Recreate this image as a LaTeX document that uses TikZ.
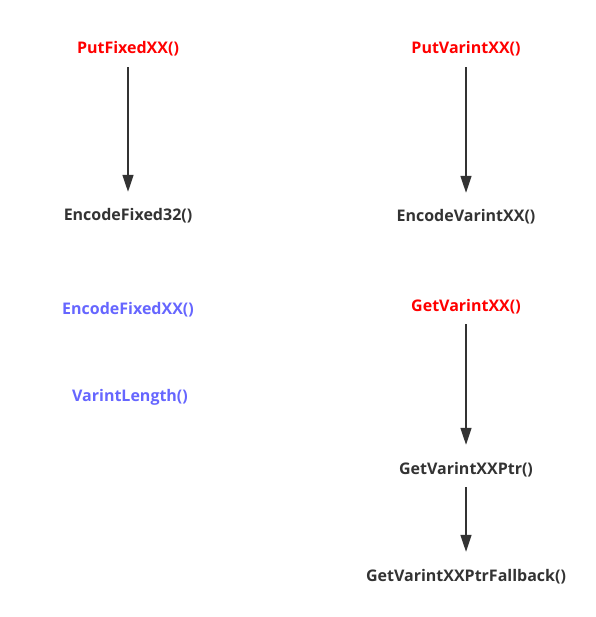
\documentclass[tikz,border=0pt]{standalone}
\usepackage{fontspec}
\setmainfont{Open Sans}
\usetikzlibrary{arrows.meta}
\definecolor{darkgrey}{HTML}{333333}
\definecolor{fnred}{HTML}{FF0000}
\definecolor{fnblue}{HTML}{6666FF}

\begin{document}
\begin{tikzpicture}[x=1pt,y=-1pt,
  fn/.style={font=\fontsize{16}{18}\selectfont\bfseries,text=darkgrey,inner sep=0pt,text height=11.5pt,text depth=3.5pt},
  call/.style={-{Triangle[length=17pt,width=11pt]},line width=1.5pt,draw=darkgrey,shorten <=9.5pt,shorten >=17.5pt}]
  \useasboundingbox (0,0) rectangle (595,617);

  \node[fn,text=fnred] (putfixed) at (128,50) {PutFixedXX()};
  \node[fn] (encfixed32) at (128,217) {EncodeFixed32()};
  \node[fn,text=fnblue] (encfixed) at (128,310) {EncodeFixedXX()};
  \node[fn,text=fnblue] (varlen) at (130,397) {VarintLength()};

  \node[fn,text=fnred] (putvar) at (466,50) {PutVarintXX()};
  \node[fn] (encvar) at (466,218) {EncodeVarintXX()};
  \node[fn,text=fnred] (getvar) at (466,307) {GetVarintXX()};
  \node[fn] (getptr) at (466,470) {GetVarintXXPtr()};
  \node[fn] (getfall) at (466,577) {GetVarintXXPtrFallback()};

  \draw[call] (putfixed) to (encfixed32);
  \draw[call] (putvar) to (encvar);
  \draw[call] (getvar) to (getptr);
  \draw[call] (getptr) to (getfall);
\end{tikzpicture}
\end{document}
